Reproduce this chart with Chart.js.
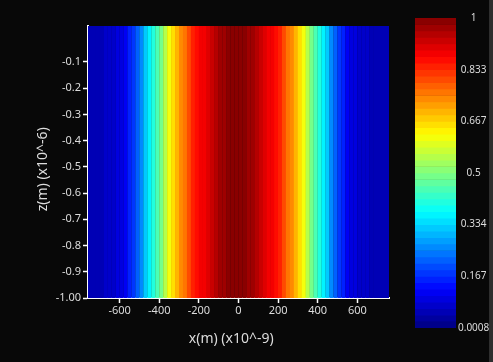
<!DOCTYPE html>
<html lang="en">
<head>
  <meta charset="UTF-8">
  <title>Field profile</title>
  <script src="https://cdn.jsdelivr.net/npm/chart.js"></script>
  <style>
    body { margin: 0; background: #080808; width: 493px; height: 362px; overflow: hidden; position: relative; }
    #mapChart { position: absolute; left: 0; top: 0; }
    #barChart { position: absolute; left: 405px; top: 0; }
    #edge { position: absolute; left: 489px; top: 0; width: 4px; height: 362px; background: #2e2e2e; }
  </style>
</head>
<body>
  <canvas id="mapChart" width="400" height="362"></canvas>
  <canvas id="barChart" width="88" height="362"></canvas>
  <div id="edge"></div>

  <script>
    // x column centres (nm): -750 .. 750 step 20
    const xStart = -750;
    const xStep = 20;
    // z extent of the map (um)
    const zRange = [-1.0, 0.037];
    // normalised intensity per x column
    const intensity = [
      0.05, 0.05, 0.055, 0.06, 0.065, 0.07, 0.075, 0.085, 0.10, 0.12,
      0.15, 0.18, 0.22, 0.27, 0.32, 0.36, 0.40, 0.44, 0.50, 0.56,
      0.61, 0.65, 0.69, 0.73, 0.77, 0.81, 0.84, 0.865, 0.88, 0.895,
      0.91, 0.93, 0.945, 0.96, 0.975, 0.99, 0.995, 1.0,
      0.995, 0.99, 0.975, 0.96, 0.945, 0.93, 0.91, 0.895, 0.88, 0.865,
      0.84, 0.81, 0.77, 0.73, 0.69, 0.65, 0.61, 0.56, 0.50, 0.44,
      0.40, 0.36, 0.32, 0.27, 0.22, 0.18, 0.15, 0.12, 0.10, 0.085,
      0.075, 0.07, 0.065, 0.06, 0.055, 0.05, 0.05, 0.05
    ];
    const xTicks = [-600, -400, -200, 0, 200, 400, 600];
    const zTicks = [-0.1, -0.2, -0.3, -0.4, -0.5, -0.6, -0.7, -0.8, -0.9, -1.0];
    const zTickLabels = ['-0.1', '-0.2', '-0.3', '-0.4', '-0.5', '-0.6', '-0.7', '-0.8', '-0.9', '-1.00'];
    const cbTicks = [0.0008, 0.167, 0.334, 0.5, 0.667, 0.833, 1];
    const cbTickLabels = ['0.0008', '0.167', '0.334', '0.5', '0.667', '0.833', '1'];
    const cbMin = 0.0008, cbMax = 1, cbSteps = 48;

    const clamp = v => Math.max(0, Math.min(1, v));
    function jet(t) {
      const r = clamp(1.5 - Math.abs(4 * t - 3));
      const g = clamp(1.5 - Math.abs(4 * t - 2));
      const b = clamp(1.5 - Math.abs(4 * t - 1));
      return 'rgb(' + Math.round(r * 255) + ',' + Math.round(g * 255) + ',' + Math.round(b * 255) + ')';
    }
    // stepped colormap like the colour bar
    function colorFor(v) {
      let t = clamp((v - cbMin) / (cbMax - cbMin));
      let k = Math.min(cbSteps - 1, Math.floor(t * cbSteps));
      return jet((k + 0.5) / cbSteps);
    }

    const tickFont = { family: 'Noto Sans', size: 11 };
    const titleFont = { family: 'Noto Sans', size: 14 };
    const textColor = '#dcdcdc';

    const mapData = intensity.map((v, i) => ({ x: xStart + i * xStep, y: zRange }));

    new Chart(document.getElementById('mapChart'), {
      type: 'bar',
      data: {
        datasets: [{
          data: mapData,
          backgroundColor: intensity.map(colorFor),
          borderWidth: 0,
          barPercentage: 1.06,
          categoryPercentage: 1,
          grouped: false
        }]
      },
      options: {
        responsive: false,
        animation: false,
        layout: { padding: { left: 0, top: 26, right: 11, bottom: 0 } },
        plugins: { legend: { display: false }, tooltip: { enabled: false } },
        scales: {
          x: {
            type: 'linear',
            offset: false,
            min: -760,
            max: 760,
            afterBuildTicks: s => { s.ticks = xTicks.map(v => ({ value: v })); },
            afterFit: s => { s.height = 64; },
            ticks: { color: textColor, font: tickFont, padding: 1, maxRotation: 0 },
            grid: { drawOnChartArea: false, offset: false, color: '#fff', tickLength: 5, tickWidth: 1.5 },
            border: { color: '#fff', width: 2 },
            title: { display: true, text: 'x(m) (x10^-9)    ', color: textColor, font: titleFont, padding: { top: 0, bottom: 15 } }
          },
          y: {
            type: 'linear',
            min: zRange[0],
            max: zRange[1],
            afterBuildTicks: s => { s.ticks = zTicks.map(v => ({ value: v })); },
            afterFit: s => { s.width = 88; },
            ticks: {
              color: textColor, font: tickFont, padding: 2,
              callback: (v, i) => zTickLabels[i]
            },
            grid: { drawOnChartArea: false, color: '#fff', tickLength: 5, tickWidth: 1.5 },
            border: { color: '#fff', width: 2 },
            title: { display: true, text: 'z(m) (x10^-6)    ', color: textColor, font: titleFont, padding: { top: 35, bottom: 0 } }
          }
        }
      }
    });

    // colour bar
    const cbData = [];
    const cbColors = [];
    for (let k = 0; k < cbSteps; k++) {
      const lo = cbMin + (cbMax - cbMin) * k / cbSteps;
      const hi = cbMin + (cbMax - cbMin) * (k + 1) / cbSteps;
      cbData.push({ x: 0, y: [lo, hi] });
      cbColors.push(jet((k + 0.5) / cbSteps));
    }

    new Chart(document.getElementById('barChart'), {
      type: 'bar',
      data: {
        datasets: [{
          data: cbData,
          backgroundColor: cbColors,
          borderWidth: 0,
          barPercentage: 1,
          categoryPercentage: 1,
          grouped: false
        }]
      },
      options: {
        responsive: false,
        animation: false,
        layout: { padding: { left: 10, top: 18, right: 0, bottom: 34 } },
        plugins: { legend: { display: false }, tooltip: { enabled: false } },
        scales: {
          x: { type: 'linear', offset: false, min: -0.5, max: 0.5, display: false },
          y: {
            type: 'linear',
            position: 'right',
            min: cbMin,
            max: cbMax,
            afterBuildTicks: s => { s.ticks = cbTicks.map(v => ({ value: v })); },
            afterFit: s => { s.width = 37; },
            ticks: {
              color: textColor, font: { family: 'Noto Sans', size: 10 }, padding: 2, crossAlign: 'center',
              callback: (v, i) => cbTickLabels[i]
            },
            grid: { display: false, tickLength: 0 },
            border: { display: false }
          }
        }
      }
    });
  </script>
</body>
</html>
